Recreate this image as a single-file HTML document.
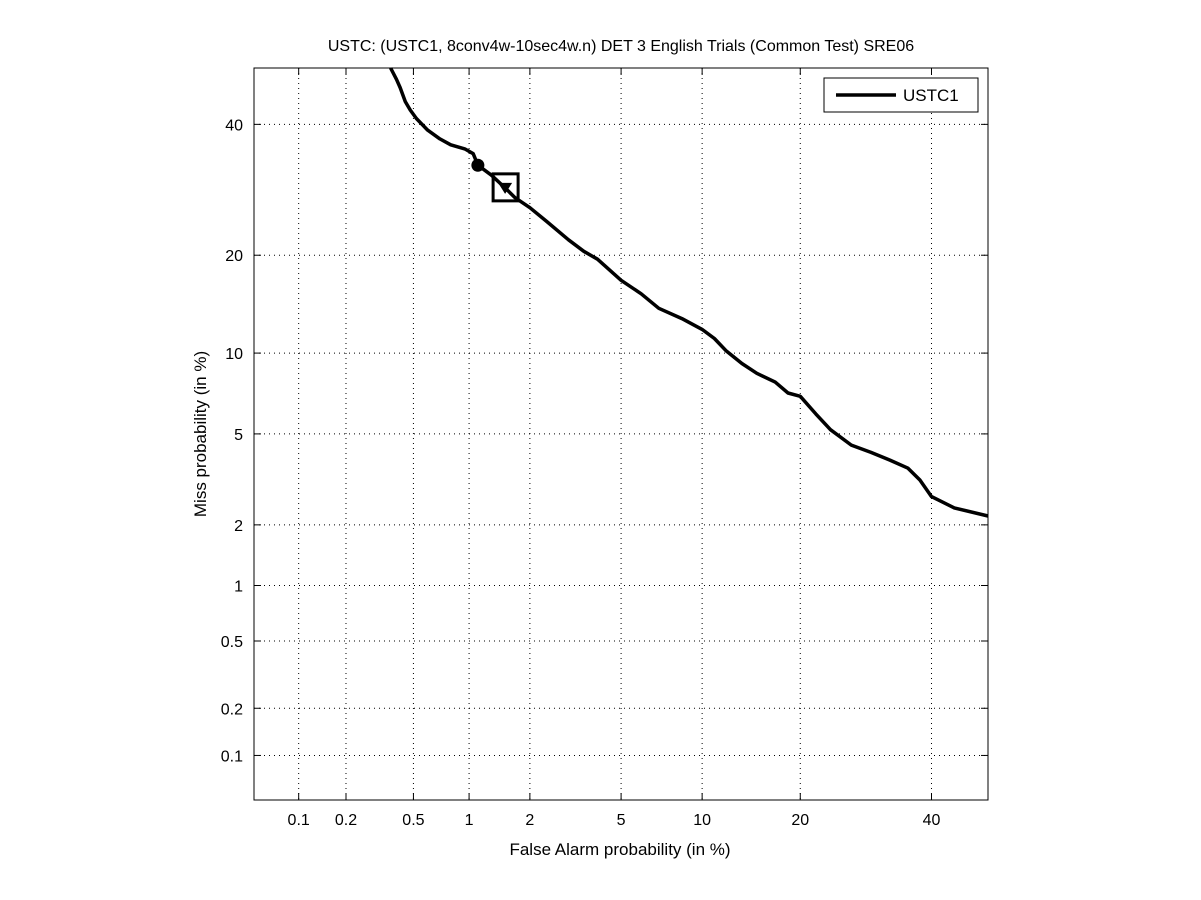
<!DOCTYPE html>
<html><head><meta charset="utf-8"><style>
html,body{margin:0;padding:0;background:#fff;}
svg{display:block;font-family:"Liberation Sans",sans-serif;}
</style></head><body>
<svg id="chart" width="1201" height="900" viewBox="0 0 1201 900"></svg>
<script>
const xTicks=[0.1,0.2,0.5,1,2,5,10,20,40];
const xTickLabels=["0.1","0.2","0.5","1","2","5","10","20","40"];
const yTicks=[0.1,0.2,0.5,1,2,5,10,20,40];
const yTickLabels=["0.1","0.2","0.5","1","2","5","10","20","40"];
const faPct=[0.37,0.40,0.42,0.45,0.48,0.52,0.6,0.7,0.8,0.95,1.05,1.11,1.3,1.52,1.7,2.0,2.4,3.0,3.5,4.0,5.0,6.0,7.0,8.5,10,11,12,13.5,15,17,18.5,20,22,24,27,30,33,36,38,40,44,50];
const missPct=[50,48,46.5,44,42.5,41,39,37.5,36.5,35.8,35,33.1,31.5,29.5,28,26.5,24.5,22,20.5,19.5,17,15.5,14,13,12,11.2,10.2,9.2,8.5,7.9,7.2,7.0,6.0,5.2,4.5,4.2,3.9,3.6,3.2,2.7,2.4,2.2];
const circlePt=[1.11,33.1];
const squarePt=[1.52,29.5];

function erfinv(x){const a=0.147;const ln=Math.log(1-x*x);const t=2/(Math.PI*a)+ln/2;return Math.sign(x)*Math.sqrt(Math.sqrt(t*t-ln/a)-t);}
function probit(p){return Math.SQRT2*erfinv(2*p-1);}
// refine probit with Newton
function ncdf(z){let t=1/(1+0.2316419*Math.abs(z));let d=0.3989423*Math.exp(-z*z/2);let p=d*t*(0.3193815+t*(-0.3565638+t*(1.781478+t*(-1.821256+t*1.330274))));return z>0?1-p:p;}
function pz(p){let z=probit(p);for(let i=0;i<3;i++){const e=ncdf(z)-p;z-=e/(Math.exp(-z*z/2)/Math.sqrt(2*Math.PI));}return z;}
const X0=254,X1=988,Y0=68,Y1=800;
const zmin=pz(0.0005),zmax=pz(0.5);
const sx=v=>X0+(pz(v/100)-zmin)/(zmax-zmin)*(X1-X0);
const sy=v=>Y1-(pz(v/100)-zmin)/(zmax-zmin)*(Y1-Y0);
const NS="http://www.w3.org/2000/svg";
const svg=document.getElementById('chart');
function mk(t,a,p){const e=document.createElementNS(NS,t);for(const k in a)e.setAttribute(k,a[k]);(p||svg).appendChild(e);return e;}

const frame=mk('rect',{x:X0,y:Y0,width:X1-X0,height:Y1-Y0,fill:'#fff',stroke:'none'});


xTicks.forEach((v,i)=>{const x=sx(v);
 const g=mk('line',{x1:x,x2:x,y1:Y0,y2:Y1,stroke:'#000','stroke-dasharray':'1 4','stroke-width':1});
 
 
 mk('line',{x1:x,x2:x,y1:Y1,y2:Y1-7,stroke:'#000'});mk('line',{x1:x,x2:x,y1:Y0,y2:Y0+7,stroke:'#000'});
 const t=mk('text',{x:x,y:825,'font-size':16,'text-anchor':'middle'});t.textContent=xTickLabels[i];
 
 
});
yTicks.forEach((v,i)=>{const y=sy(v);
 const g=mk('line',{x1:X0,x2:X1,y1:y,y2:y,stroke:'#000','stroke-dasharray':'1 4','stroke-width':1});
 
 
 mk('line',{x1:X0,x2:X0+7,y1:y,y2:y,stroke:'#000'});mk('line',{x1:X1,x2:X1-7,y1:y,y2:y,stroke:'#000'});
 const t=mk('text',{x:243,y:y+6,'font-size':16,'text-anchor':'end'});t.textContent=yTickLabels[i];
 
 
});
const ax=mk('rect',{x:X0,y:Y0,width:X1-X0,height:Y1-Y0,fill:'none',stroke:'#000','stroke-width':1});



const pts=faPct.map((v,i)=>sx(v).toFixed(1)+','+sy(missPct[i]).toFixed(1)).join(' ');
const cv=mk('polyline',{points:pts,fill:'none',stroke:'#000','stroke-width':3.5,'stroke-linejoin':'round'});


const c=mk('circle',{cx:sx(circlePt[0]),cy:sy(circlePt[1]),r:6.5,fill:'#000'});


const qx=sx(squarePt[0]),qy=sy(squarePt[1]);
const sq=mk('rect',{x:qx-12,y:qy-14,width:25,height:27,fill:'none',stroke:'#000','stroke-width':3});


const tri=mk('polygon',{points:`${qx-7},${qy-5} ${qx+7},${qy-5} ${qx},${qy+6}`,fill:'#000'});



const lg=mk('g',{});


mk('rect',{x:824,y:78,width:154,height:34,fill:'#fff',stroke:'#000'},lg);
mk('line',{x1:836,x2:896,y1:95,y2:95,stroke:'#000','stroke-width':3.5},lg);
const lt=mk('text',{x:903,y:101,'font-size':17},lg);lt.textContent='USTC1';



const ti=mk('text',{x:621,y:51,'font-size':16,'text-anchor':'middle'});
ti.textContent='USTC: (USTC1, 8conv4w-10sec4w.n) DET 3 English Trials (Common Test) SRE06';


const xt=mk('text',{x:620,y:855,'font-size':17,'text-anchor':'middle'});
xt.textContent='False Alarm probability (in %)';


const yt=mk('text',{x:0,y:0,'font-size':17,'text-anchor':'middle',transform:'translate(206,434) rotate(-90)'});
yt.textContent='Miss probability (in %)';


</script>
</body></html>
